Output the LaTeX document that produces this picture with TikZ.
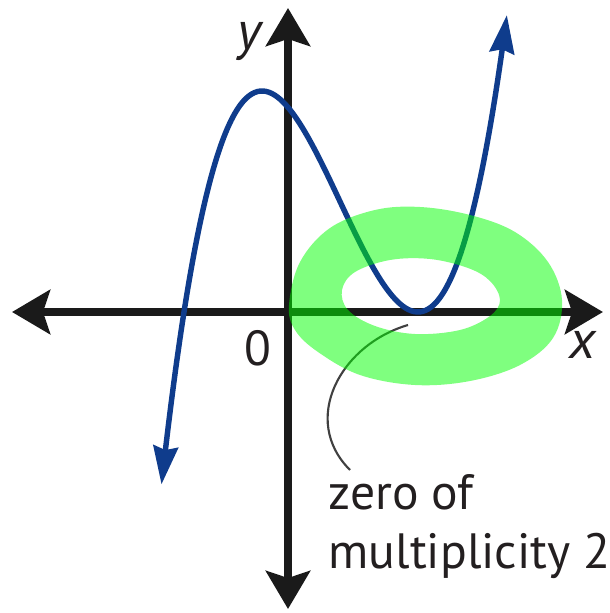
\documentclass[tikz,border=0pt]{standalone}
\usepackage{fontspec}
\setmainfont{PT Sans}
\usetikzlibrary{arrows.meta}
\definecolor{curveblue}{RGB}{15,60,140}
\definecolor{axisblack}{RGB}{26,26,26}
\definecolor{hlgreen}{RGB}{0,255,0}
\definecolor{textgray}{RGB}{35,31,32}
\begin{document}
\begin{tikzpicture}[x=0.01cm,y=-0.01cm,
  axisline/.style={draw=axisblack, line width=2.4pt,
    {Stealth[length=10.8pt,width=12.5pt,inset=2pt]}-{Stealth[length=10.8pt,width=12.5pt,inset=2pt]}},
  curveline/.style={draw=curveblue, line width=1.55pt,
    {Stealth[length=10.8pt,width=7pt,inset=1pt]}-{Stealth[length=10.8pt,width=7pt,inset=1pt]}},
  leader/.style={draw=black!75, line width=0.6pt},
  axislabel/.style={text=textgray, inner sep=0pt, font=\fontsize{15.4pt}{18pt}\selectfont\itshape},
  zerolabel/.style={text=textgray, inner sep=0pt, font=\fontsize{14pt}{16pt}\selectfont},
  annot/.style={text=textgray, inner sep=0pt, align=left, font=\fontsize{14.1pt}{16.5pt}\selectfont},
  highlight/.style={fill=hlgreen, fill opacity=0.5, even odd rule}
]
\useasboundingbox (0,0) rectangle (610,613);

% axes
\coordinate (xl) at (12,312);
\coordinate (xr) at (603,312);
\coordinate (yt) at (288,8);
\coordinate (yb) at (288,609);
\draw[axisline] (xl) -- (xr);
\draw[axisline] (yt) -- (yb);

% axis labels
\node[axislabel, anchor=base] (ylab) at (249,50) {y};
\node[axislabel, anchor=base] (xlab) at (583,358) {x};
\node[zerolabel, anchor=base] (origin) at (258,365) {0};

% cubic curve
\draw[curveline] plot[domain=1.615:5.07, samples=120, smooth]
  ({100*\x}, {312 - 116.43*(\x-1.84)*(\x-4.18)*(\x-4.18)});

% annotation
\coordinate (zero) at (408,325);
\coordinate (lblend) at (350,470);
\node[annot, anchor=base west] (lbl) at (328,568) {zero of\\[0.25pt]multiplicity 2};
\draw[leader] (zero) .. controls (340,345) and (300,420) .. (lblend);

% green highlight ring
\path[highlight]
  plot[smooth cycle, tension=0.6] coordinates {(289,305) (300,262) (330,228) (375,210) (420,207) (470,215) (515,232) (548,262) (562,300) (553,338) (520,365) (470,381) (415,385) (360,375) (318,352) (295,330)}
  plot[smooth cycle, tension=0.6] coordinates {(342,290) (355,272) (390,260) (430,259) (468,268) (490,281) (500,300) (490,316) (460,330) (415,334) (375,326) (348,310)};
\end{tikzpicture}
\end{document}
